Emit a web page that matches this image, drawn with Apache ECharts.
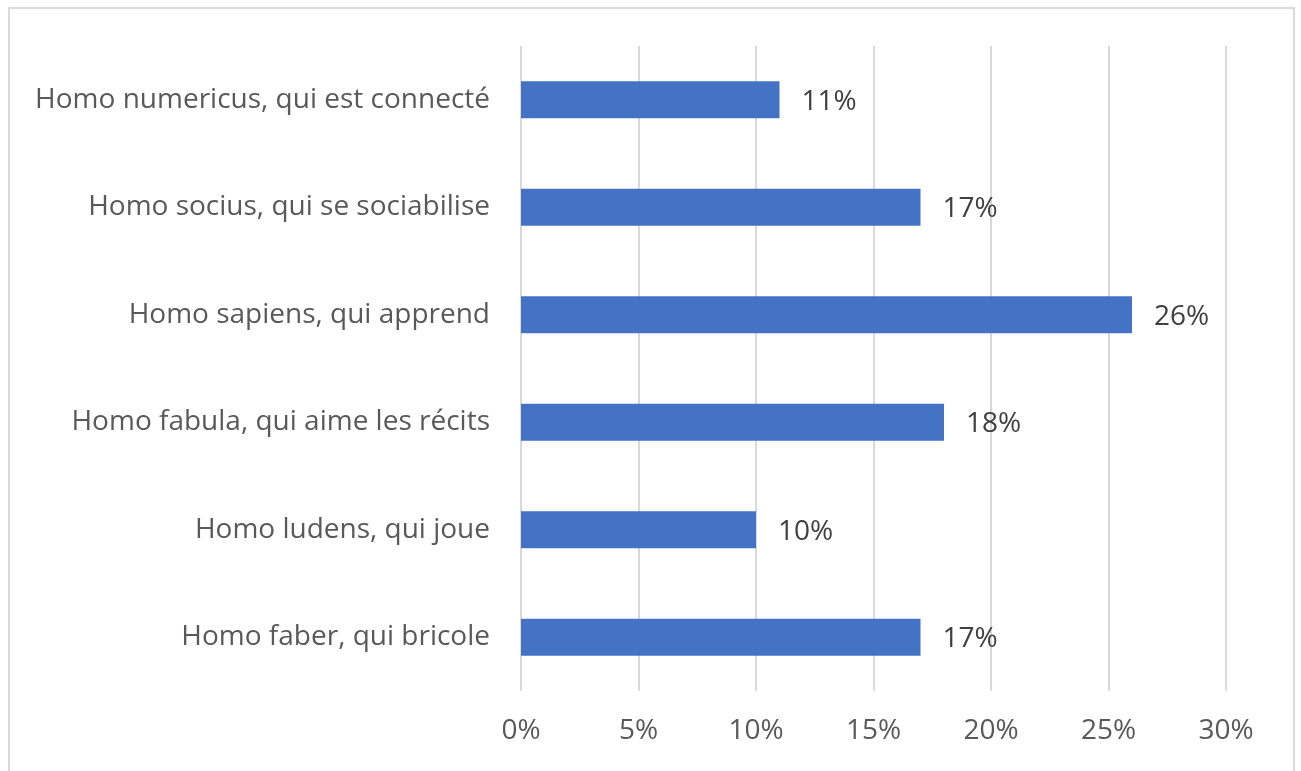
<!DOCTYPE html>
<html>
<head>
<meta charset="utf-8">
<script src="https://cdn.jsdelivr.net/npm/echarts@6/dist/echarts.min.js"></script>
<style>
html, body { margin: 0; padding: 0; background: #fff; }
#app { width: 1301px; height: 771px; }
</style>
</head>
<body>
<div id="app"></div>
<script>
// catégories, de bas en haut
const categories = [
	'Homo faber, qui bricole',
	'Homo ludens, qui joue',
	'Homo fabula, qui aime les récits',
	'Homo sapiens, qui apprend',
	'Homo socius, qui se sociabilise',
	'Homo numericus, qui est connecté'
];
const values = [17, 10, 18, 26, 17, 11];
const xTicks = [0, 5, 10, 15, 20, 25, 30];

const fontFam = 'Open Sans';

let chart = echarts.init(document.getElementById('app'));
let option = {
	backgroundColor: '#fff',
	animation: false,
	graphic: [{
		type: 'rect',
		shape: { x: 9, y: 8, width: 1285, height: 780 },
		style: { fill: 'none', stroke: '#d9d9d9', lineWidth: 2 },
		silent: true
	}],
	grid: {
		left: 521,
		right: 75,
		top: 46,
		bottom: 80
	},
	xAxis: {
		type: 'value',
		min: xTicks[0],
		max: xTicks[xTicks.length - 1],
		interval: 5,
		axisLine: { show: false },
		axisTick: { show: false },
		splitLine: { lineStyle: { color: '#d9d9d9', width: 2 } },
		axisLabel: {
			formatter: '{value}%',
			color: '#595959',
			fontFamily: fontFam,
			fontSize: 28,
			margin: 26
		}
	},
	yAxis: {
		type: 'category',
		data: categories,
		axisLine: { show: false },
		axisTick: { show: false },
		axisLabel: {
			color: '#595959',
			fontFamily: fontFam,
			fontSize: 28,
			margin: 31
		}
	},
	series: [{
		type: 'bar',
		data: values,
		barWidth: 37,
		itemStyle: { color: '#4472c4' },
		label: {
			show: true,
			position: 'right',
			distance: 22,
			offset: [0, 2],
			formatter: '{c}%',
			color: '#404040',
			fontFamily: fontFam,
			fontSize: 28
		}
	}]
};
chart.setOption(option);
</script>
</body>
</html>
